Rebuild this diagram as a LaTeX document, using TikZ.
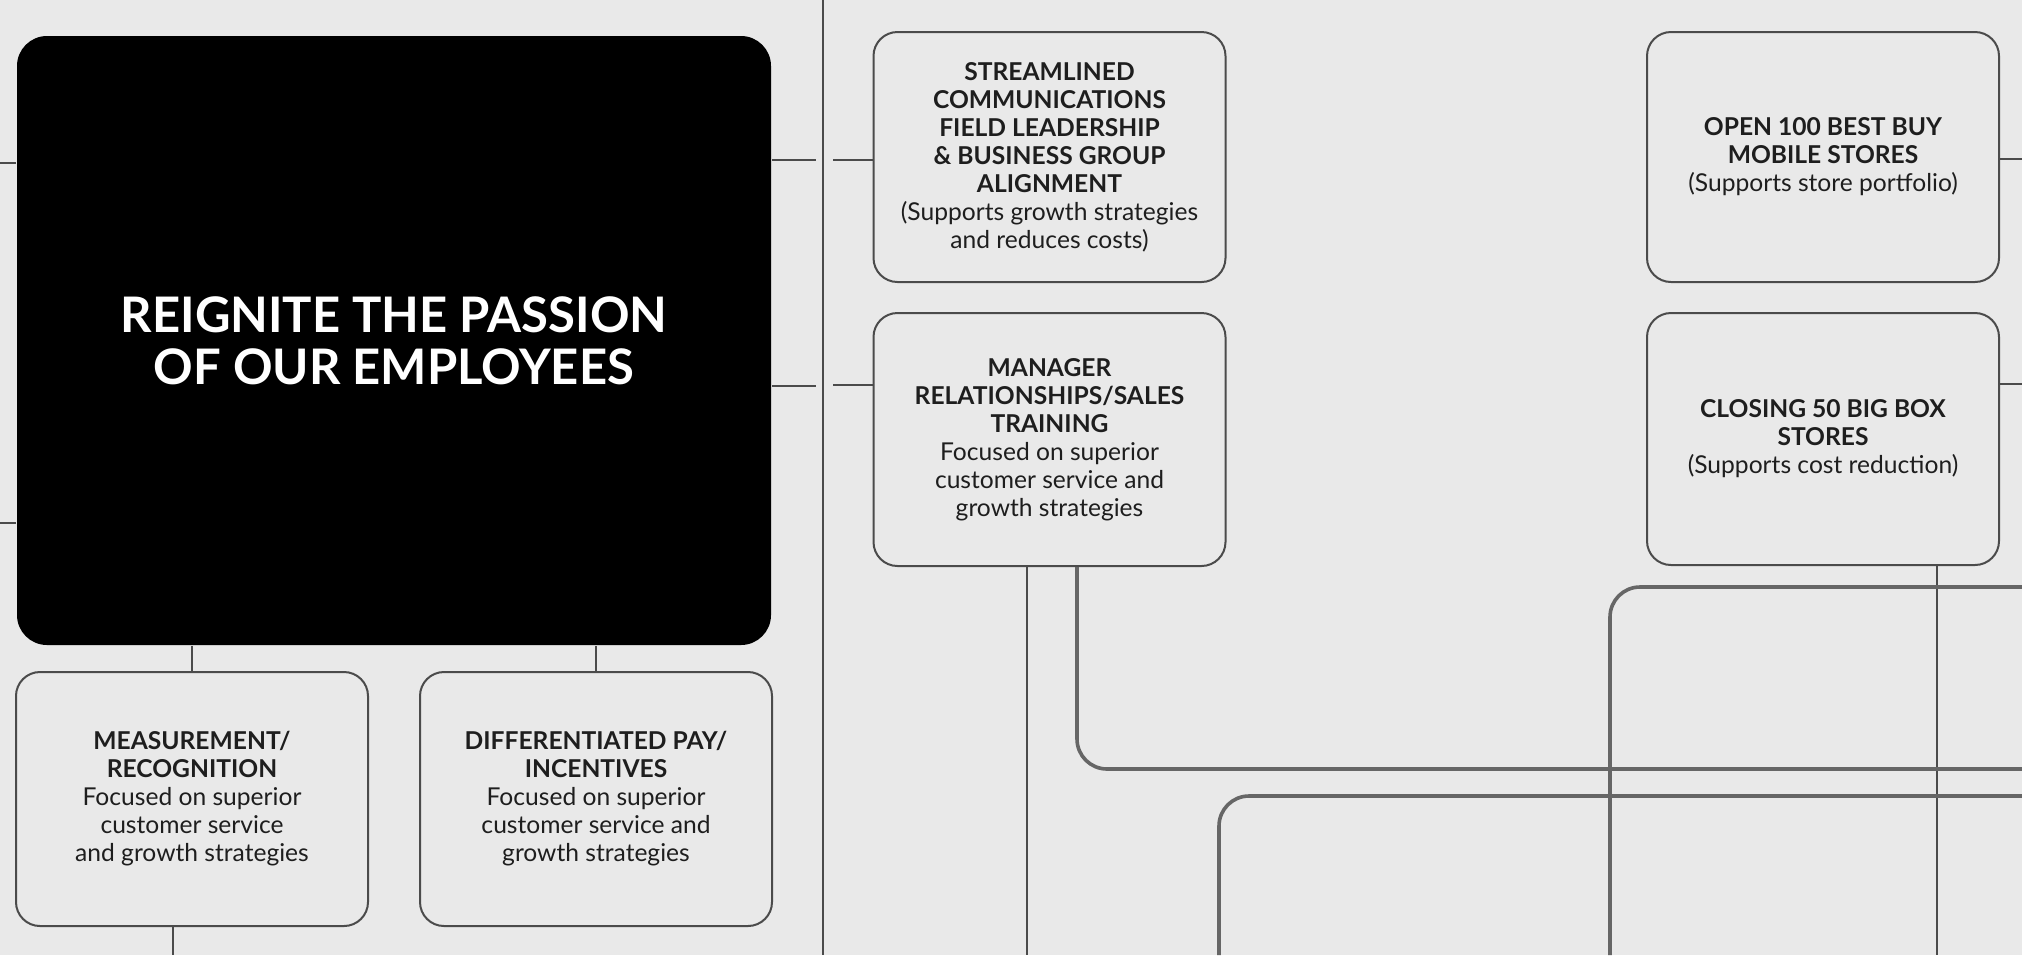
\documentclass[tikz,border=0pt]{standalone}
\usepackage{fontspec}
\setmainfont{Lato}
\usetikzlibrary{positioning}
\definecolor{paper}{RGB}{233,233,233}
\definecolor{ink}{RGB}{75,75,75}
\definecolor{txt}{RGB}{30,30,30}

\begin{document}
\begin{tikzpicture}[x=0.5pt,y=-0.5pt,line width=1pt,node distance=14.5pt,
    goal node/.style={fill=black,rounded corners=15pt,minimum width=377pt,minimum height=304.5pt,
                      inner sep=0pt,align=center,text=white,font=\bfseries\fontsize{24.5}{26}\selectfont},
    main node/.style={draw=ink,rounded corners=12pt,minimum width=176pt,minimum height=125pt,
                      inner sep=0pt,align=center,text=txt,font=\fontsize{12.3}{14}\selectfont},
    link/.style={draw=ink},
    trunk/.style={draw=gray!80!black,line width=1.8pt,rounded corners=15pt}]

  \fill[paper] (0,0) rectangle (2022,955);
  \useasboundingbox (0,0) rectangle (2022,955);

  % left page
  \node[goal node] (goal) at (394,340.5) {REIGNITE THE PASSION\\OF OUR EMPLOYEES};
  \node[main node,minimum height=127pt] (measure) at (192,799)
       {\textbf{MEASUREMENT/}\\\textbf{RECOGNITION}\\Focused on superior\\customer service\\and growth strategies};
  \node[main node,minimum height=127pt] (pay) [right=25pt of measure]
       {\textbf{DIFFERENTIATED PAY/}\\\textbf{INCENTIVES}\\Focused on superior\\customer service and\\growth strategies};

  % right page
  \node[main node] (comms) at (1049.5,157)
       {\textbf{STREAMLINED}\\\textbf{COMMUNICATIONS}\\\textbf{FIELD LEADERSHIP}\\\textbf{\& BUSINESS GROUP}\\\textbf{ALIGNMENT}\\(Supports growth strategies\\and reduces costs)};
  \node[main node,minimum height=126.5pt] (training) [below=of comms]
       {\textbf{MANAGER}\\\textbf{RELATIONSHIPS/SALES}\\\textbf{TRAINING}\\Focused on superior\\customer service and\\growth strategies};
  \node[main node] (mobile) at (1823,157)
       {\textbf{OPEN 100 BEST BUY}\\\textbf{MOBILE STORES}\\(Supports store portfolio)};
  \node[main node,minimum height=126pt] (closing) [below=of mobile]
       {\textbf{CLOSING 50 BIG BOX}\\\textbf{STORES}\\(Supports cost reduction)};

  \coordinate (top) at (823,0);
  \coordinate (bot) at (823,955);
  \coordinate (w1) at (0,163);
  \coordinate (w2) at (0,523);
  \coordinate (f1) at (816,160);
  \coordinate (f2) at (833,160);
  \coordinate (f3) at (816,386);
  \coordinate (f4) at (833,385);
  \coordinate (m1) at (173,955);
  \coordinate (e1) at (2022,159);
  \coordinate (e2) at (2022,384);
  \coordinate (t1) at (1027,955);
  \coordinate (t2) at (2022,769);
  \coordinate (c1) at (1937,955);
  \coordinate (b1) at (1610,955);
  \coordinate (b2) at (2022,587);
  \coordinate (b3) at (1219,955);
  \coordinate (b4) at (2022,796);

  % fold of the page
  \draw[link] (top) -- (bot);

  \draw[link] (w1) -- (w1 -| goal.west);
  \draw[link] (w2) -- (w2 -| goal.west);
  \draw[link] (goal.east |- f1) -- (f1);
  \draw[link] (f2) -- (f2 -| comms.west);
  \draw[link] (goal.east |- f3) -- (f3);
  \draw[link] (f4) -- (f4 -| training.west);
  \draw[link] (measure.north |- goal.south) -- (measure.north);
  \draw[link] (pay.north |- goal.south) -- (pay.north);
  \draw[link] (m1 |- measure.south) -- (m1);
  \draw[link] (mobile.east |- e1) -- (e1);
  \draw[link] (closing.east |- e2) -- (e2);
  \draw[link] (t1 |- training.south) -- (t1);
  \draw[link] (c1 |- closing.south) -- (c1);

  \draw[trunk] ([xshift=13.75pt]training.south) |- (t2);
  \draw[trunk] (b1) |- (b2);
  \draw[trunk] (b3) |- (b4);
\end{tikzpicture}
\end{document}
